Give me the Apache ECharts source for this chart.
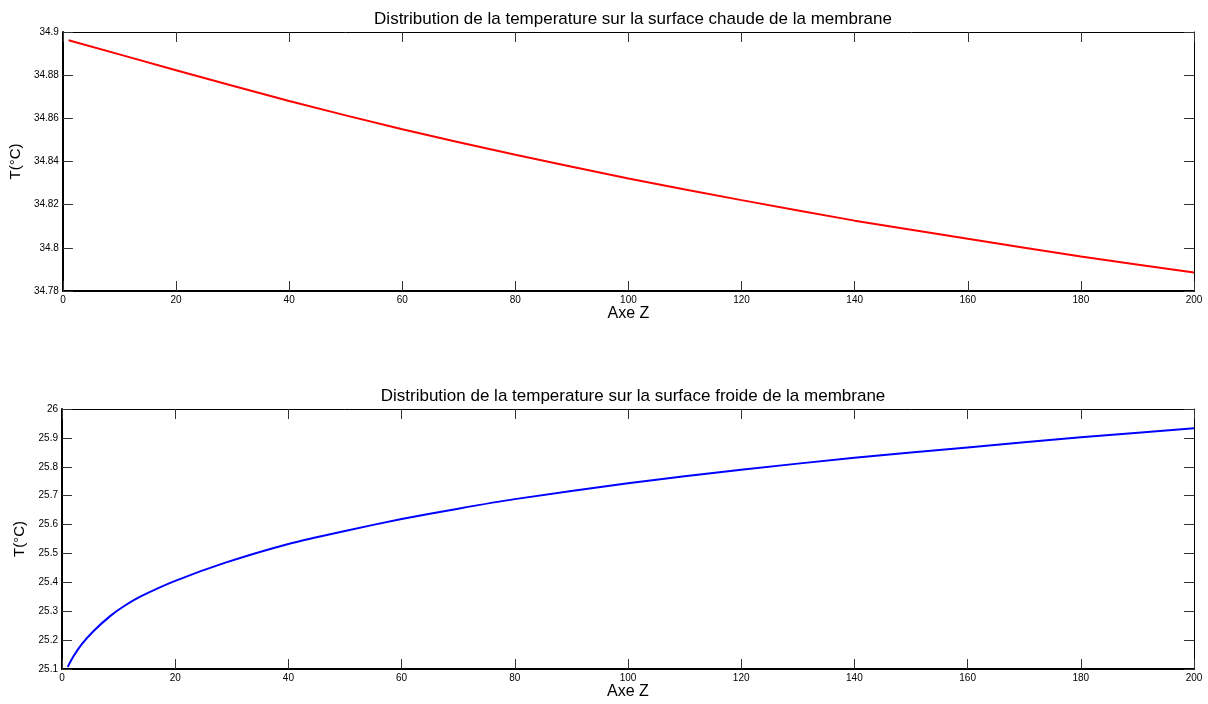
<!DOCTYPE html>
<html>
<head>
<meta charset="utf-8">
<script src="https://cdn.jsdelivr.net/npm/echarts@6/dist/echarts.min.js"></script>
<style>
html,body{margin:0;padding:0;background:#fff;}
#c{width:1208px;height:704px;}
</style>
</head>
<body>
<div id="c"></div>
<script>
// Top plot: hot surface temperature
const hotZ = [1, 20, 40, 60, 80, 100, 120, 140, 160, 180, 200];
const hotT = [34.8962, 34.8823, 34.8680, 34.8549, 34.8431, 34.8321, 34.8221, 34.8126, 34.8042, 34.7960, 34.7886];
// Bottom plot: cold surface temperature
const coldZ = [1, 2, 3.5, 5.5, 8.5, 11, 14, 20, 29, 40, 50, 60, 70, 80, 100, 120, 140, 160, 180, 200];
const coldT = [25.107, 25.143, 25.186, 25.230, 25.283, 25.318, 25.352, 25.405, 25.469, 25.533, 25.578, 25.619, 25.655, 25.688, 25.743, 25.790, 25.831, 25.867, 25.902, 25.933];

const titles = ['Distribution de la temperature sur la surface chaude de la membrane',
                'Distribution de la temperature sur la surface froide de la membrane'];
const xName = 'Axe Z';
const yName = 'T(°C)';

const FONT = '"Liberation Sans", Arial, Helvetica, sans-serif';
const chart = echarts.init(document.getElementById('c'));

const grids = [
  {left: 62, top: 32, width: 1132, height: 259},
  {left: 62, top: 409, width: 1132, height: 260}
];
const yRanges = [{min: 34.78, max: 34.9, interval: 0.02}, {min: 25.1, max: 26, interval: 0.1}];

function fmt(v){ return String(+v.toFixed(4)); }

const xAxes = [], yAxes = [];
[0,1].forEach(i => {
  xAxes.push({
    type: 'value', gridIndex: i, min: 0, max: 200, interval: 20, position: 'bottom',
    name: xName, nameLocation: 'middle', nameGap: 10,
    nameTextStyle: {fontFamily: FONT, fontSize: 16, color: '#000'},
    axisLine: {show: true, onZero: false, lineStyle: {color: '#000', width: 2}},
    axisTick: {show: true, inside: true, length: 10, lineStyle: {color: '#333', width: 1}},
    axisLabel: {fontFamily: FONT, fontSize: 10, color: '#000', margin: 4, formatter: fmt},
    splitLine: {show: false}
  });
  xAxes.push({
    type: 'value', gridIndex: i, min: 0, max: 200, interval: 20, position: 'top',
    axisLine: {show: true, onZero: false, lineStyle: {color: '#000', width: 1}},
    axisTick: {show: true, inside: true, length: 10, lineStyle: {color: '#333', width: 1}},
    axisLabel: {show: false}, splitLine: {show: false}
  });
  yAxes.push({
    type: 'value', gridIndex: i, min: yRanges[i].min, max: yRanges[i].max, interval: yRanges[i].interval,
    position: 'left',
    name: yName, nameLocation: 'middle', nameGap: 32, nameRotate: 90,
    nameTextStyle: {fontFamily: FONT, fontSize: 15, color: '#000'},
    axisLine: {show: true, onZero: false, lineStyle: {color: '#000', width: 2}},
    axisTick: {show: true, inside: true, length: 10, lineStyle: {color: '#333', width: 1}},
    axisLabel: {fontFamily: FONT, fontSize: 10, color: '#000', margin: 4, formatter: fmt},
    splitLine: {show: false}
  });
  yAxes.push({
    type: 'value', gridIndex: i, min: yRanges[i].min, max: yRanges[i].max, interval: yRanges[i].interval,
    position: 'right',
    axisLine: {show: true, onZero: false, lineStyle: {color: '#000', width: 1}},
    axisTick: {show: true, inside: true, length: 10, lineStyle: {color: '#333', width: 1}},
    axisLabel: {show: false}, splitLine: {show: false}
  });
});

chart.setOption({
  animation: false,
  backgroundColor: '#fff',
  title: [
    {text: titles[0], left: 628, top: 6, textAlign: 'center',
     textStyle: {fontFamily: FONT, fontSize: 17, fontWeight: 'normal', color: '#000'}},
    {text: titles[1], left: 628, top: 383, textAlign: 'center',
     textStyle: {fontFamily: FONT, fontSize: 17, fontWeight: 'normal', color: '#000'}}
  ],
  grid: grids,
  xAxis: xAxes,
  yAxis: yAxes,
  series: [
    {type: 'line', xAxisIndex: 0, yAxisIndex: 0, data: hotZ.map((z,k)=>[z, hotT[k]]),
     smooth: 0.2, showSymbol: false, lineStyle: {color: '#ff0000', width: 2}},
    {type: 'line', xAxisIndex: 2, yAxisIndex: 2, data: coldZ.map((z,k)=>[z, coldT[k]]),
     smooth: 0.2, showSymbol: false, lineStyle: {color: '#0000ff', width: 2}}
  ]
});
</script>
</body>
</html>
